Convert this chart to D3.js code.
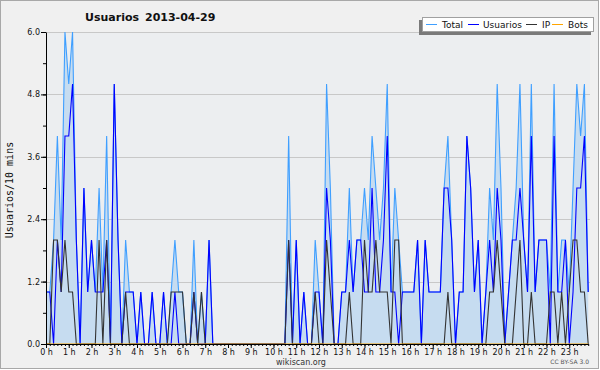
<!DOCTYPE html>
<html><head><meta charset="utf-8">
<script src="https://cdn.jsdelivr.net/npm/d3@7"></script>
<style>body{margin:0;background:#fff}svg{display:block}text{font-family:"DejaVu Sans",sans-serif}</style>
</head><body><svg id="c" width="600" height="370"></svg>
<script>
const hourLabels = ["0 h","1 h","2 h","3 h","4 h","5 h","6 h","7 h","8 h","9 h","10 h","11 h","12 h","13 h","14 h","15 h","16 h","17 h","18 h","19 h","20 h","21 h","22 h","23 h"];
const yTicks = [0, 1.2, 2.4, 3.6, 4.8, 6.0];
const seriesNames = ["Total", "Usuarios", "IP", "Bots"];
// one value per 10 minutes (144 slots)
const total = [
 1,1,2,4,2,6,5,6,2,0,3,1,
 2,1,3,1,4,0,5,2,0,2,1,1,
 0,1,0,0,1,0,0,1,0,1,2,1,
 1,0,0,2,0,1,0,2,0,0,0,0,
 0,0,0,0,0,0,0,0,0,0,0,0,
 0,0,0,0,4,0,2,0,1,0,0,2,
 1,0,5,3,0,0,1,1,3,1,2,2,
 3,2,4,3,2,3,5,1,3,2,1,1,
 1,1,2,0,2,1,1,1,1,3,4,2,
 0,1,1,4,3,1,2,0,1,3,2,5,
 3,0,1,2,3,5,2,1,5,1,2,2,
 2,1,5,1,2,2,1,3,5,4,5,1];
const usuarios = [
 1,1,0,2,1,4,4,5,2,0,3,1,
 2,1,1,1,2,0,5,2,0,1,1,1,
 0,1,0,0,1,0,0,1,0,0,1,0,
 0,0,0,1,0,0,0,2,0,0,0,0,
 0,0,0,0,0,0,0,0,0,0,0,0,
 0,0,0,0,2,0,2,0,1,0,0,1,
 1,0,3,2,0,0,1,1,2,1,2,2,
 1,1,3,1,1,2,4,1,1,0,1,1,
 1,1,2,0,2,1,1,1,1,3,3,2,
 0,1,1,4,3,1,2,0,1,2,1,3,
 2,0,1,2,2,3,2,1,4,1,2,2,
 2,0,4,1,1,2,0,1,3,3,4,1];
const ip = [
 0,0,2,2,1,2,1,1,0,0,0,0,
 0,0,2,0,2,0,0,0,0,1,0,0,
 0,0,0,0,0,0,0,0,0,1,1,1,
 1,0,0,1,0,1,0,0,0,0,0,0,
 0,0,0,0,0,0,0,0,0,0,0,0,
 0,0,0,0,2,0,0,0,0,0,0,1,
 0,0,2,1,0,0,0,0,1,0,0,0,
 2,1,1,2,1,1,1,0,2,2,0,0,
 0,0,0,0,0,0,0,0,0,0,1,0,
 0,0,0,0,0,0,0,0,0,1,1,2,
 1,0,0,0,1,2,0,0,1,0,0,0,
 0,1,1,0,1,0,1,2,2,1,1,0];
const bots = [
 0,0,0,0,0,0,0,0,0,0,0,0,
 0,0,0,0,0,0,0,0,0,0,0,0,
 0,0,0,0,0,0,0,0,0,0,0,0,
 0,0,0,0,0,0,0,0,0,0,0,0,
 0,0,0,0,0,0,0,0,0,0,0,0,
 0,0,0,0,0,0,0,0,0,0,0,0,
 0,0,0,0,0,0,0,0,0,0,0,0,
 0,0,0,0,0,0,0,0,0,0,0,0,
 0,0,0,0,0,0,0,0,0,0,0,0,
 0,0,0,0,0,0,0,0,0,0,0,0,
 0,0,0,0,0,0,0,0,0,0,0,0,
 0,0,0,0,0,0,0,0,0,0,0,0];

const colors = {Total:"#3f9fff", Usuarios:"#0000ff", IP:"#333333", Bots:"#ffa500"};
const svg = d3.select("#c");
const L = 46, R = 590, T = 32, B = 344;

svg.append("rect").attr("x",0.5).attr("y",0.5).attr("width",598).attr("height",368)
  .attr("fill","#f0f0f0").attr("stroke","#a8a8a8");
svg.append("rect").attr("x",L).attr("y",T).attr("width",R-L).attr("height",B-T).attr("fill","#eceef0");

const x = d3.scaleLinear().domain([0,143]).range([46, 588.2]);
const y = d3.scaleLinear().domain([0,6]).range([B, T]);

// grid
svg.append("g").selectAll("line").data(yTicks.filter(d=>d>0)).join("line")
  .attr("x1",L).attr("x2",R)
  .attr("y1",d=>Math.round(y(d))+0.5).attr("y2",d=>Math.round(y(d))+0.5)
  .attr("stroke","#c8c8c8");

// area + lines
const idx = d3.range(total.length);
svg.append("path").datum(idx)
  .attr("d", d3.area().x(i=>x(i)).y0(y(0)).y1(i=>y(total[i])))
  .attr("fill","#c6dcf0");
const line = arr => d3.line().x(i=>x(i)).y(i=>y(arr[i]))(idx);
[[total,"Total"],[usuarios,"Usuarios"],[ip,"IP"],[bots,"Bots"]].forEach(([arr,n])=>{
  svg.append("path").attr("d", line(arr)).attr("fill","none")
    .attr("stroke", colors[n]).attr("stroke-width", 1.1).attr("stroke-linejoin","miter");
});

// axes
const yMinor = svg.append("g").attr("transform",`translate(${L},0)`)
  .call(d3.axisLeft(y).tickValues(d3.range(0,6.01,0.6)).tickSize(3).tickFormat(""));
const yAx = svg.append("g").attr("transform",`translate(${L},0)`)
  .call(d3.axisLeft(y).tickValues(yTicks).tickSize(5).tickSizeOuter(0).tickPadding(1).tickFormat(d3.format(".1f")));
const xMinor = svg.append("g").attr("transform",`translate(0,${B})`)
  .call(d3.axisBottom(x).tickValues(idx).tickSize(2).tickSizeOuter(0).tickFormat(""));
const xAx = svg.append("g").attr("transform",`translate(0,${B})`)
  .call(d3.axisBottom(x).tickValues(d3.range(0,144,6)).tickSize(4).tickSizeOuter(0).tickPadding(1)
    .tickFormat((d,i)=>hourLabels[i]));
[yMinor,yAx,xMinor,xAx].forEach(g=>{
  g.selectAll("path,line").attr("stroke","#000");
  g.selectAll("text").attr("font-size","8px").attr("font-family","DejaVu Sans").attr("fill","#111");
});
yMinor.select(".domain").remove(); xMinor.select(".domain").remove();

// titles
svg.append("text").attr("x",85).attr("y",21).attr("font-size","11px").attr("font-weight","bold").attr("fill","#111").text("Usuarios");
svg.append("text").attr("x",145).attr("y",21).attr("font-size","11px").attr("font-weight","bold").attr("fill","#111").text("2013-04-29");
svg.append("text").attr("transform","translate(13,190) rotate(-90)").attr("text-anchor","middle")
  .attr("font-size","10px").style("font-family","'DejaVu Sans Mono',monospace").attr("fill","#111").text("Usuarios/10 mins");
svg.append("text").attr("x",301).attr("y",365).attr("text-anchor","middle").attr("font-size","8px").attr("fill","#333").text("wikiscan.org");
svg.append("text").attr("x",589).attr("y",364).attr("text-anchor","end").attr("font-size","6px").attr("fill","#555").text("CC BY-SA 3.0");

// legend
svg.append("rect").attr("x",419).attr("y",20).attr("width",172).attr("height",15).attr("fill","#7a7a7a");
svg.append("rect").attr("x",422.5).attr("y",17.5).attr("width",171).attr("height",14).attr("fill","#fff").attr("stroke","#a0a0a0");
const legPos = [{lx:426,tx:442},{lx:468,tx:483},{lx:526,tx:542},{lx:552,tx:568}];
seriesNames.forEach((n,k)=>{
  const p = legPos[k];
  svg.append("line").attr("x1",p.lx).attr("x2",p.lx+11).attr("y1",24.5).attr("y2",24.5).attr("stroke",colors[n]);
  svg.append("text").attr("x",p.tx).attr("y",28).attr("font-size","9px").attr("fill","#111").text(n);
});
</script></body></html>
